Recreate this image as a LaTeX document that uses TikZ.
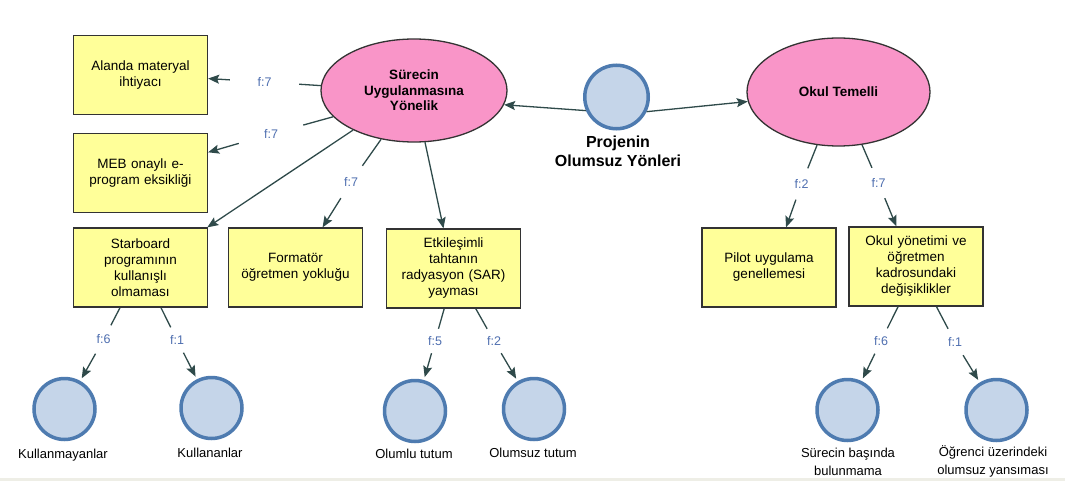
\documentclass[tikz,border=0pt]{standalone}
\usepackage{fontspec}
\setmainfont{Liberation Sans}
\usetikzlibrary{shapes.geometric,arrows.meta}
\definecolor{boxfill}{HTML}{FFFF99}
\definecolor{boxline}{HTML}{333333}
\definecolor{pinkfill}{HTML}{F995C8}
\definecolor{circfill}{HTML}{C5D5E9}
\definecolor{circline}{HTML}{4E7BB0}
\definecolor{connline}{HTML}{2F4A4A}
\definecolor{lblcol}{HTML}{4F6FB0}
\definecolor{bandcol}{HTML}{EEEEE6}
\begin{document}
\begin{tikzpicture}[x=1pt,y=-1pt,
 box/.style={draw=boxline, fill=boxfill, line width=1.3pt, rectangle, minimum width=134pt, minimum height=79pt, inner sep=0pt, text width=125pt, align=center, font=\fontsize{13.5}{16}\selectfont},
 oval/.style={draw=boxline, fill=pinkfill, line width=1.3pt, ellipse, inner sep=0pt, align=center, font=\bfseries\fontsize{13.5}{15.5}\selectfont},
 bubble/.style={draw=circline, fill=circfill, line width=3.5pt, circle, minimum size=61pt, inner sep=0pt},
 bubtxt/.style={align=center, font=\fontsize{13}{19}\selectfont, anchor=north, inner sep=0pt},
 flab/.style={text=lblcol, font=\fontsize{12.5}{14}\selectfont, inner sep=0pt},
 conn/.style={draw=connline, line width=1.3pt},
 arr/.style={conn, -{Stealth[length=11pt,width=9pt,inset=2pt]}}
]
\fill[white] (0,0) rectangle (1065,481);
\fill[bandcol] (0,478) rectangle (1065,481);
\useasboundingbox (0,0) rectangle (1065,481);

% ellipses and root
\node[oval, minimum width=186pt, minimum height=103pt] (sur) at (414,90.5) {Sürecin\\Uygulanmasına\\Yönelik};
\node[oval, minimum width=183pt, minimum height=108pt] (oku) at (838.5,92) {Okul Temelli};
\node[bubble, minimum size=63.5pt] (proj) at (616.5,97) {};
\node[align=center, inner sep=0pt, anchor=north, font=\bfseries\fontsize{16}{19}\selectfont] (projt) at (618,136) {Projenin\\Olumsuz Yönleri};

% boxes
\node[box] (ala) at (140.5,75) {Alanda materyal\\ihtiyacı};
\node[box] (meb) at (140.5,173) {MEB onaylı e-\\program eksikliği};
\node[box] (sta) at (140.5,267.5) {Starboard\\programının\\kullanışlı\\olmaması};
\node[box] (fmt) at (295.5,267.5) {Formatör\\öğretmen yokluğu};
\node[box] (etk) at (453.5,268.5) {Etkileşimli\\tahtanın\\radyasyon (SAR)\\yayması};
\node[box] (pil) at (769,267.5) {Pilot uygulama\\genellemesi};
\node[box] (oky) at (916,266.5) {Okul yönetimi ve\\öğretmen\\kadrosundaki\\değişiklikler};

% bottom bubbles
\node[bubble] (kmy) at (64.5,409) {};
\node[bubble] (kul) at (211.5,408) {};
\node[bubble] (olu) at (415,411) {};
\node[bubble] (ols) at (534,409) {};
\node[bubble] (sb) at (847.5,410) {};
\node[bubble] (og) at (996.5,410) {};
\node[bubtxt] (kmyt) at (63,448.5) {Kullanmayanlar};
\node[bubtxt] (kult) at (210,447.5) {Kullananlar};
\node[bubtxt] (olut) at (414,448.5) {Olumlu tutum};
\node[bubtxt] (olst) at (533,447.5) {Olumsuz tutum};
\node[bubtxt, font=\fontsize{13}{18}\selectfont] (sbt) at (848,447.5) {Sürecin başında\\bulunmama};
\node[bubtxt, font=\fontsize{13}{18}\selectfont] (ogt) at (993,445) {Öğrenci üzerindeki\\olumsuz yansıması};

% edge labels
\node[flab, minimum width=69pt, minimum height=8pt] (l1) at (264.5,82) {f:7};
\node[flab, minimum width=64pt, minimum height=24pt] (l2) at (271,134) {f:7};
\node[flab, minimum width=24pt, minimum height=32pt] (l3) at (351,182) {f:7};
\node[flab, minimum width=16pt, minimum height=31pt] (l4) at (801.5,184) {f:2};
\node[flab, minimum width=16pt, minimum height=30pt] (l5) at (878.5,183) {f:7};
\node[flab, minimum width=18pt, minimum height=28pt] (l6) at (103.5,339.5) {f:6};
\node[flab, minimum width=18pt, minimum height=25pt] (l7) at (177,340) {f:1};
\node[flab, minimum width=14pt, minimum height=24pt] (l8) at (435,341) {f:5};
\node[flab, minimum width=18pt, minimum height=24pt] (l9) at (494,341) {f:2};
\node[flab, minimum width=18pt, minimum height=25pt] (l10) at (881,341) {f:6};
\node[flab, minimum width=18pt, minimum height=26pt] (l11) at (955,342) {f:1};

% connectors
\draw[arr] (proj.204) -- (sur.-9);
\draw[arr] (proj.-26) -- (oku.186);
\draw[conn] (sur.177) -- (l1); \draw[arr] (l1) -- (ala.-3);
\draw[conn] (sur.198) -- (l2); \draw[arr] (l2) -- (meb.17);
\draw[arr] (sur.213) -- (sta.31);
\draw[conn] (sur.236) -- (l3); \draw[arr] (l3) -- (fmt.56);
\draw[arr] (sur.-78) -- (etk.104);
\draw[conn] (oku.248) -- (l4); \draw[arr] (l4) -- (pil.67);
\draw[conn] (oku.-66) -- (l5); \draw[arr] (l5) -- (oky.116);
\draw[conn] (sta.-117) -- (l6); \draw[arr, shorten >=3pt] (l6) -- (kmy);
\draw[conn] (sta.-63) -- (l7); \draw[arr, shorten >=3pt] (l7) -- (kul);
\draw[conn] (etk.-103) -- (l8); \draw[arr, shorten >=3pt] (l8) -- (olu);
\draw[conn] (etk.-61) -- (l9); \draw[arr, shorten >=3pt] (l9) -- (ols);
\draw[conn] (oky.-114) -- (l10); \draw[arr, shorten >=3pt] (l10) -- (sb);
\draw[conn] (oky.-63) -- (l11); \draw[arr, shorten >=3pt] (l11) -- (og);
\end{tikzpicture}
\end{document}
